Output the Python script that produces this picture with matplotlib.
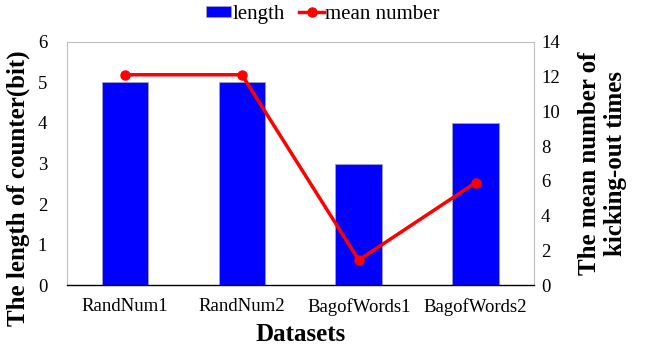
import matplotlib
matplotlib.use("Agg")
import matplotlib.pyplot as plt
import numpy as np

categories = ["RandNum1", "RandNum2", "BagofWords1", "BagofWords2"]
length_bits = [5, 5, 3, 4]
mean_kickouts = [12.1, 12.1, 1.45, 5.9]
left_ticks = [0, 1, 2, 3, 4, 5, 6]
right_ticks = [0, 2, 4, 6, 8, 10, 12, 14]

plt.rcParams['font.family'] = ['Liberation Serif', 'DejaVu Serif']

fig = plt.figure(figsize=(6.46, 3.47), dpi=100)
ax = fig.add_axes([0.1032, 0.1778, 0.7234, 0.702])
x = np.arange(len(categories))
bars = ax.bar(x, length_bits, width=0.4, color='#0000FF', edgecolor='#A0A0C0', linewidth=0.6, label='length', zorder=2)
ax.set_xlim(-0.5, len(categories) - 0.5)
ax.set_ylim(0, 6)
ax.set_yticks(left_ticks)
ax.set_xticks(x)
ax.set_xticklabels(categories)
ax.tick_params(axis='y', length=0, labelsize=13.5, pad=14)
ax.tick_params(axis='x', length=0, labelsize=13.5, pad=9)
for s in ['top', 'left', 'right']:
    ax.spines[s].set_color('#BFBFBF')
    ax.spines[s].set_linewidth(0.8)
ax.spines['bottom'].set_color('black')
ax.spines['bottom'].set_linewidth(1.0)
ax.set_xlabel('Datasets', fontsize=18, fontweight='bold', labelpad=5)
ax.set_ylabel('The length of counter(bit)', fontsize=18, fontweight='bold')
ax.yaxis.set_label_coords(-0.078, 0.40)

ax2 = ax.twinx()
line, = ax2.plot(x, mean_kickouts, color='#FF0000', linewidth=2.5, marker='o', markersize=6.5, label='mean number', zorder=3)
ax2.set_ylim(0, 14)
ax2.set_yticks(right_ticks)
ax2.tick_params(axis='y', length=0, labelsize=13.5, pad=5)
for s in ['top', 'left', 'right', 'bottom']:
    ax2.spines[s].set_visible(False)
ax2.set_ylabel('The mean number of\nkicking-out times', fontsize=18, fontweight='bold', labelpad=13)

fig.legend([bars, line], ['length', 'mean number'], loc='upper center', bbox_to_anchor=(0.5, 1.04),
           ncol=2, frameon=False, fontsize=15, handlelength=1.2, handleheight=0.5,
           handletextpad=0.05, columnspacing=0.7)

fig.savefig('out.png', dpi=100)
